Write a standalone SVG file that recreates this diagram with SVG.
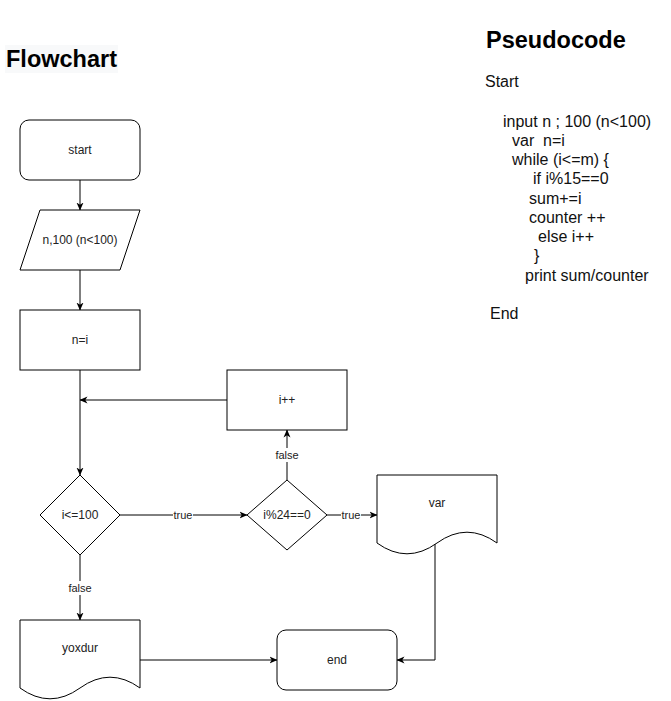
<svg xmlns="http://www.w3.org/2000/svg" width="671" height="701" viewBox="0 0 671 701">
<defs>
<marker id="arr" viewBox="0 0 8 8" refX="7.5" refY="4" markerWidth="8" markerHeight="8" markerUnits="userSpaceOnUse" orient="auto">
<path d="M0,0.5 L8,4 L0,7.5 L2.2,4 Z" fill="#000"/>
</marker>
<style>
.shape{fill:#fff;stroke:#000;stroke-width:1}
.lbl{font-family:"Liberation Sans",Arial,sans-serif;font-size:12px;fill:#222;text-anchor:middle}
.elbl{font-family:"Liberation Sans",Arial,sans-serif;font-size:11px;fill:#222;text-anchor:middle}
.ebg{fill:#fff}
.edge{fill:none;stroke:#000;stroke-width:1}
.title{font-family:"Liberation Sans",Arial,sans-serif;font-weight:bold;fill:#000}
.code{font-family:"Liberation Sans",Arial,sans-serif;font-size:16px;fill:#111;white-space:pre}
</style>
</defs>
<rect width="671" height="701" fill="#fff"/>

<g id="title-flowchart">
<rect x="5" y="45" width="113" height="28" fill="#f8f9fa"/>
<text class="title" x="6" y="67" font-size="23.5">Flowchart</text>
</g>

<g id="pseudocode">
<text class="title" x="486" y="48" font-size="23.5">Pseudocode</text>
<text class="code" x="485" y="87">Start</text>
<text class="code" x="503" y="127">input n ; 100 (n&lt;100)</text>
<text class="code" x="512" y="146" xml:space="preserve">var  n=i</text>
<text class="code" x="512" y="165">while (i&lt;=m) {</text>
<text class="code" x="533" y="184">if i%15==0</text>
<text class="code" x="529" y="204">sum+=i</text>
<text class="code" x="529" y="223">counter ++</text>
<text class="code" x="538" y="242">else i++</text>
<text class="code" x="534" y="261">}</text>
<text class="code" x="525" y="281">print sum/counter</text>
<text class="code" x="490" y="319">End</text>
</g>

<g id="connectors">
<path class="edge" d="M80,180 V210" marker-end="url(#arr)"/>
<path class="edge" d="M80,270 V310" marker-end="url(#arr)"/>
<path class="edge" d="M80,370 V475" marker-end="url(#arr)"/>
<path class="edge" d="M227,400 H80" marker-end="url(#arr)"/>
<path class="edge" d="M120,515 H247" marker-end="url(#arr)"/>
<path class="edge" d="M287,480 V430" marker-end="url(#arr)"/>
<path class="edge" d="M327,515 H377" marker-end="url(#arr)"/>
<path class="edge" d="M80,555 V620" marker-end="url(#arr)"/>
<path class="edge" d="M435,544 V660 H397" marker-end="url(#arr)"/>
<path class="edge" d="M140,660 H277" marker-end="url(#arr)"/>
<rect class="ebg" x="173" y="508" width="20" height="14"/>
<text class="elbl" x="183" y="519">true</text>
<rect class="ebg" x="341" y="508" width="20" height="14"/>
<text class="elbl" x="351" y="519">true</text>
<rect class="ebg" x="275" y="448" width="24" height="14"/>
<text class="elbl" x="287" y="459">false</text>
<rect class="ebg" x="68" y="581" width="24" height="14"/>
<text class="elbl" x="80" y="592">false</text>
</g>

<g id="start">
<rect class="shape" x="20" y="120" width="120" height="60" rx="9" ry="9"/>
<text class="lbl" x="80" y="154">start</text>
</g>

<g id="input">
<polygon class="shape" points="40,210 140,210 120,270 20,270"/>
<text class="lbl" x="80" y="244">n,100 (n&lt;100)</text>
</g>

<g id="assign">
<rect class="shape" x="20" y="310" width="120" height="60"/>
<text class="lbl" x="80" y="344">n=i</text>
</g>

<g id="inc">
<rect class="shape" x="227" y="370" width="120" height="60"/>
<text class="lbl" x="287" y="404">i++</text>
</g>

<g id="cond1">
<polygon class="shape" points="80,475 120,515 80,555 40,515"/>
<text class="lbl" x="80" y="519">i&lt;=100</text>
</g>

<g id="cond2">
<polygon class="shape" points="287,480 327,515 287,550 247,515"/>
<text class="lbl" x="287" y="519">i%24==0</text>
</g>

<g id="var">
<path class="shape" d="M377,475 H497 V543 Q467,521.4 437,543 Q407,564.6 377,543 Z"/>
<text class="lbl" x="437" y="507">var</text>
</g>

<g id="yoxdur">
<path class="shape" d="M20,620 H140 V688 Q110,666.4 80,688 Q50,709.6 20,688 Z"/>
<text class="lbl" x="80" y="652">yoxdur</text>
</g>

<g id="end">
<rect class="shape" x="277" y="630" width="120" height="60" rx="9" ry="9"/>
<text class="lbl" x="337" y="664">end</text>
</g>
</svg>
